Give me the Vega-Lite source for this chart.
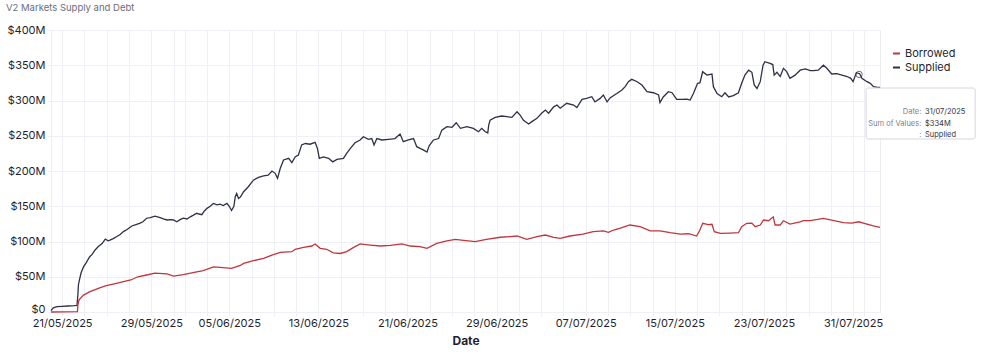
{
  "$schema": "https://vega.github.io/schema/vega-lite/v6.json",
  "width": 829,
  "height": 282,
  "autosize": {"type": "none"},
  "padding": {"left": 51, "top": 30, "right": 101, "bottom": 46},
  "background": "white",
  "title": {"text": "V2 Markets Supply and Debt", "anchor": "start", "frame": "group", "dx": -45, "offset": 12, "fontSize": 9.5, "fontWeight": "normal", "color": "#6a6d80", "font": "Inter"},
  "config": {
    "font": "Inter",
    "view": {"stroke": "#ececf2"},
    "axis": {"gridColor": "#eef0f5", "tickColor": "#eef0f5", "domain": false, "labelColor": "#1f1f2e", "labelFontSize": 11, "labelFont": "Inter"}
  },
  "resolve": {"axis": {"x": "independent", "y": "independent"}},
  "datasets": {
    "series": [
      {"date": "2025-05-20T00:00Z", "series": "Supplied", "value": 2},
      {"date": "2025-05-20T05:00Z", "series": "Supplied", "value": 6},
      {"date": "2025-05-20T13:00Z", "series": "Supplied", "value": 7.5},
      {"date": "2025-05-21T00:00Z", "series": "Supplied", "value": 8},
      {"date": "2025-05-21T13:00Z", "series": "Supplied", "value": 8.5},
      {"date": "2025-05-22T02:00Z", "series": "Supplied", "value": 9},
      {"date": "2025-05-22T08:00Z", "series": "Supplied", "value": 9.5},
      {"date": "2025-05-22T10:00Z", "series": "Supplied", "value": 25},
      {"date": "2025-05-22T11:00Z", "series": "Supplied", "value": 38},
      {"date": "2025-05-22T13:00Z", "series": "Supplied", "value": 45},
      {"date": "2025-05-22T17:00Z", "series": "Supplied", "value": 56},
      {"date": "2025-05-22T22:00Z", "series": "Supplied", "value": 64},
      {"date": "2025-05-23T04:00Z", "series": "Supplied", "value": 70},
      {"date": "2025-05-23T11:00Z", "series": "Supplied", "value": 78},
      {"date": "2025-05-23T17:00Z", "series": "Supplied", "value": 82},
      {"date": "2025-05-23T23:00Z", "series": "Supplied", "value": 88},
      {"date": "2025-05-24T06:00Z", "series": "Supplied", "value": 93},
      {"date": "2025-05-24T14:00Z", "series": "Supplied", "value": 97},
      {"date": "2025-05-24T21:00Z", "series": "Supplied", "value": 103.5},
      {"date": "2025-05-25T03:00Z", "series": "Supplied", "value": 101},
      {"date": "2025-05-25T07:00Z", "series": "Supplied", "value": 102},
      {"date": "2025-05-25T14:00Z", "series": "Supplied", "value": 104},
      {"date": "2025-05-25T22:00Z", "series": "Supplied", "value": 107},
      {"date": "2025-05-26T05:00Z", "series": "Supplied", "value": 110},
      {"date": "2025-05-26T12:00Z", "series": "Supplied", "value": 114},
      {"date": "2025-05-26T20:00Z", "series": "Supplied", "value": 117},
      {"date": "2025-05-27T06:00Z", "series": "Supplied", "value": 122},
      {"date": "2025-05-27T15:00Z", "series": "Supplied", "value": 124},
      {"date": "2025-05-28T00:00Z", "series": "Supplied", "value": 126},
      {"date": "2025-05-28T06:00Z", "series": "Supplied", "value": 128},
      {"date": "2025-05-28T14:00Z", "series": "Supplied", "value": 133},
      {"date": "2025-05-28T22:00Z", "series": "Supplied", "value": 134},
      {"date": "2025-05-29T08:00Z", "series": "Supplied", "value": 136},
      {"date": "2025-05-29T19:00Z", "series": "Supplied", "value": 134},
      {"date": "2025-05-30T02:00Z", "series": "Supplied", "value": 132},
      {"date": "2025-05-30T10:00Z", "series": "Supplied", "value": 130.5},
      {"date": "2025-05-30T17:00Z", "series": "Supplied", "value": 131},
      {"date": "2025-05-31T00:00Z", "series": "Supplied", "value": 130.5},
      {"date": "2025-05-31T07:00Z", "series": "Supplied", "value": 128},
      {"date": "2025-05-31T14:00Z", "series": "Supplied", "value": 131},
      {"date": "2025-05-31T21:00Z", "series": "Supplied", "value": 133},
      {"date": "2025-06-01T05:00Z", "series": "Supplied", "value": 132},
      {"date": "2025-06-01T12:00Z", "series": "Supplied", "value": 135},
      {"date": "2025-06-01T18:00Z", "series": "Supplied", "value": 137},
      {"date": "2025-06-02T02:00Z", "series": "Supplied", "value": 140},
      {"date": "2025-06-02T07:00Z", "series": "Supplied", "value": 139},
      {"date": "2025-06-02T13:00Z", "series": "Supplied", "value": 138},
      {"date": "2025-06-02T18:00Z", "series": "Supplied", "value": 143},
      {"date": "2025-06-03T00:00Z", "series": "Supplied", "value": 147},
      {"date": "2025-06-03T07:00Z", "series": "Supplied", "value": 150},
      {"date": "2025-06-03T14:00Z", "series": "Supplied", "value": 154},
      {"date": "2025-06-03T22:00Z", "series": "Supplied", "value": 152},
      {"date": "2025-06-04T04:00Z", "series": "Supplied", "value": 153},
      {"date": "2025-06-04T11:00Z", "series": "Supplied", "value": 151},
      {"date": "2025-06-04T19:00Z", "series": "Supplied", "value": 154},
      {"date": "2025-06-05T00:00Z", "series": "Supplied", "value": 150},
      {"date": "2025-06-05T05:00Z", "series": "Supplied", "value": 144},
      {"date": "2025-06-05T10:00Z", "series": "Supplied", "value": 150},
      {"date": "2025-06-05T13:00Z", "series": "Supplied", "value": 163.5},
      {"date": "2025-06-05T16:00Z", "series": "Supplied", "value": 168},
      {"date": "2025-06-05T20:00Z", "series": "Supplied", "value": 161},
      {"date": "2025-06-06T00:00Z", "series": "Supplied", "value": 163},
      {"date": "2025-06-06T07:00Z", "series": "Supplied", "value": 170.6},
      {"date": "2025-06-06T17:00Z", "series": "Supplied", "value": 177.7},
      {"date": "2025-06-07T04:00Z", "series": "Supplied", "value": 187},
      {"date": "2025-06-07T15:00Z", "series": "Supplied", "value": 191},
      {"date": "2025-06-08T02:00Z", "series": "Supplied", "value": 193},
      {"date": "2025-06-08T12:00Z", "series": "Supplied", "value": 194},
      {"date": "2025-06-08T20:00Z", "series": "Supplied", "value": 200},
      {"date": "2025-06-09T03:00Z", "series": "Supplied", "value": 196.7},
      {"date": "2025-06-09T08:00Z", "series": "Supplied", "value": 189.6},
      {"date": "2025-06-09T14:00Z", "series": "Supplied", "value": 203.8},
      {"date": "2025-06-09T21:00Z", "series": "Supplied", "value": 215.6},
      {"date": "2025-06-10T08:00Z", "series": "Supplied", "value": 218},
      {"date": "2025-06-10T15:00Z", "series": "Supplied", "value": 212},
      {"date": "2025-06-10T22:00Z", "series": "Supplied", "value": 220},
      {"date": "2025-06-11T05:00Z", "series": "Supplied", "value": 222.7},
      {"date": "2025-06-11T12:00Z", "series": "Supplied", "value": 237},
      {"date": "2025-06-11T20:00Z", "series": "Supplied", "value": 239},
      {"date": "2025-06-12T06:00Z", "series": "Supplied", "value": 238},
      {"date": "2025-06-12T17:00Z", "series": "Supplied", "value": 240.7},
      {"date": "2025-06-12T22:00Z", "series": "Supplied", "value": 232},
      {"date": "2025-06-13T02:00Z", "series": "Supplied", "value": 218},
      {"date": "2025-06-13T11:00Z", "series": "Supplied", "value": 220},
      {"date": "2025-06-13T22:00Z", "series": "Supplied", "value": 218},
      {"date": "2025-06-14T07:00Z", "series": "Supplied", "value": 213},
      {"date": "2025-06-14T16:00Z", "series": "Supplied", "value": 216.5},
      {"date": "2025-06-15T06:00Z", "series": "Supplied", "value": 218},
      {"date": "2025-06-15T13:00Z", "series": "Supplied", "value": 225},
      {"date": "2025-06-15T21:00Z", "series": "Supplied", "value": 232},
      {"date": "2025-06-16T07:00Z", "series": "Supplied", "value": 240},
      {"date": "2025-06-16T18:00Z", "series": "Supplied", "value": 244},
      {"date": "2025-06-17T01:00Z", "series": "Supplied", "value": 248.6},
      {"date": "2025-06-17T12:00Z", "series": "Supplied", "value": 245},
      {"date": "2025-06-17T19:00Z", "series": "Supplied", "value": 246},
      {"date": "2025-06-18T00:00Z", "series": "Supplied", "value": 237},
      {"date": "2025-06-18T06:00Z", "series": "Supplied", "value": 246},
      {"date": "2025-06-18T17:00Z", "series": "Supplied", "value": 244},
      {"date": "2025-06-19T07:00Z", "series": "Supplied", "value": 245},
      {"date": "2025-06-19T21:00Z", "series": "Supplied", "value": 246},
      {"date": "2025-06-20T08:00Z", "series": "Supplied", "value": 252.5},
      {"date": "2025-06-20T15:00Z", "series": "Supplied", "value": 241.6},
      {"date": "2025-06-21T02:00Z", "series": "Supplied", "value": 244},
      {"date": "2025-06-21T13:00Z", "series": "Supplied", "value": 246},
      {"date": "2025-06-21T20:00Z", "series": "Supplied", "value": 234.5},
      {"date": "2025-06-22T03:00Z", "series": "Supplied", "value": 232},
      {"date": "2025-06-22T10:00Z", "series": "Supplied", "value": 230},
      {"date": "2025-06-22T18:00Z", "series": "Supplied", "value": 227},
      {"date": "2025-06-22T23:00Z", "series": "Supplied", "value": 236},
      {"date": "2025-06-23T08:00Z", "series": "Supplied", "value": 244},
      {"date": "2025-06-23T19:00Z", "series": "Supplied", "value": 246},
      {"date": "2025-06-24T02:00Z", "series": "Supplied", "value": 258},
      {"date": "2025-06-24T13:00Z", "series": "Supplied", "value": 262.8},
      {"date": "2025-06-25T00:00Z", "series": "Supplied", "value": 262},
      {"date": "2025-06-25T09:00Z", "series": "Supplied", "value": 268.5},
      {"date": "2025-06-25T18:00Z", "series": "Supplied", "value": 260.5},
      {"date": "2025-06-26T08:00Z", "series": "Supplied", "value": 262.8},
      {"date": "2025-06-26T22:00Z", "series": "Supplied", "value": 260.5},
      {"date": "2025-06-27T09:00Z", "series": "Supplied", "value": 255.7},
      {"date": "2025-06-27T16:00Z", "series": "Supplied", "value": 260.5},
      {"date": "2025-06-27T23:00Z", "series": "Supplied", "value": 256},
      {"date": "2025-06-28T05:00Z", "series": "Supplied", "value": 254},
      {"date": "2025-06-28T07:00Z", "series": "Supplied", "value": 265},
      {"date": "2025-06-28T10:00Z", "series": "Supplied", "value": 272},
      {"date": "2025-06-28T21:00Z", "series": "Supplied", "value": 276},
      {"date": "2025-06-29T11:00Z", "series": "Supplied", "value": 278},
      {"date": "2025-06-29T22:00Z", "series": "Supplied", "value": 277},
      {"date": "2025-06-30T09:00Z", "series": "Supplied", "value": 276},
      {"date": "2025-06-30T20:00Z", "series": "Supplied", "value": 284},
      {"date": "2025-07-01T03:00Z", "series": "Supplied", "value": 279},
      {"date": "2025-07-01T10:00Z", "series": "Supplied", "value": 272},
      {"date": "2025-07-01T21:00Z", "series": "Supplied", "value": 266.7},
      {"date": "2025-07-02T04:00Z", "series": "Supplied", "value": 270},
      {"date": "2025-07-02T15:00Z", "series": "Supplied", "value": 274.7},
      {"date": "2025-07-03T01:00Z", "series": "Supplied", "value": 281.8},
      {"date": "2025-07-03T09:00Z", "series": "Supplied", "value": 286.5},
      {"date": "2025-07-03T16:00Z", "series": "Supplied", "value": 282},
      {"date": "2025-07-04T03:00Z", "series": "Supplied", "value": 291},
      {"date": "2025-07-04T10:00Z", "series": "Supplied", "value": 293.6},
      {"date": "2025-07-04T17:00Z", "series": "Supplied", "value": 289},
      {"date": "2025-07-05T07:00Z", "series": "Supplied", "value": 296},
      {"date": "2025-07-05T22:00Z", "series": "Supplied", "value": 293.6},
      {"date": "2025-07-06T05:00Z", "series": "Supplied", "value": 290},
      {"date": "2025-07-06T16:00Z", "series": "Supplied", "value": 301.7},
      {"date": "2025-07-07T02:00Z", "series": "Supplied", "value": 303},
      {"date": "2025-07-07T13:00Z", "series": "Supplied", "value": 305.4},
      {"date": "2025-07-07T20:00Z", "series": "Supplied", "value": 298},
      {"date": "2025-07-08T07:00Z", "series": "Supplied", "value": 303},
      {"date": "2025-07-08T14:00Z", "series": "Supplied", "value": 307.8},
      {"date": "2025-07-08T22:00Z", "series": "Supplied", "value": 298},
      {"date": "2025-07-09T05:00Z", "series": "Supplied", "value": 304},
      {"date": "2025-07-09T19:00Z", "series": "Supplied", "value": 310},
      {"date": "2025-07-10T06:00Z", "series": "Supplied", "value": 315},
      {"date": "2025-07-10T13:00Z", "series": "Supplied", "value": 319.6},
      {"date": "2025-07-10T20:00Z", "series": "Supplied", "value": 326.7},
      {"date": "2025-07-11T03:00Z", "series": "Supplied", "value": 330},
      {"date": "2025-07-11T14:00Z", "series": "Supplied", "value": 327},
      {"date": "2025-07-12T01:00Z", "series": "Supplied", "value": 322},
      {"date": "2025-07-12T12:00Z", "series": "Supplied", "value": 312.5},
      {"date": "2025-07-13T02:00Z", "series": "Supplied", "value": 311},
      {"date": "2025-07-13T13:00Z", "series": "Supplied", "value": 307.8},
      {"date": "2025-07-13T16:00Z", "series": "Supplied", "value": 297},
      {"date": "2025-07-13T23:00Z", "series": "Supplied", "value": 305},
      {"date": "2025-07-14T10:00Z", "series": "Supplied", "value": 312.5},
      {"date": "2025-07-14T18:00Z", "series": "Supplied", "value": 311},
      {"date": "2025-07-15T04:00Z", "series": "Supplied", "value": 301.7},
      {"date": "2025-07-15T15:00Z", "series": "Supplied", "value": 301.7},
      {"date": "2025-07-16T02:00Z", "series": "Supplied", "value": 302},
      {"date": "2025-07-16T09:00Z", "series": "Supplied", "value": 300.7},
      {"date": "2025-07-16T16:00Z", "series": "Supplied", "value": 310},
      {"date": "2025-07-17T01:00Z", "series": "Supplied", "value": 324.4},
      {"date": "2025-07-17T06:00Z", "series": "Supplied", "value": 325},
      {"date": "2025-07-17T12:00Z", "series": "Supplied", "value": 340.8},
      {"date": "2025-07-17T21:00Z", "series": "Supplied", "value": 336},
      {"date": "2025-07-18T08:00Z", "series": "Supplied", "value": 337.6},
      {"date": "2025-07-18T11:00Z", "series": "Supplied", "value": 319.6},
      {"date": "2025-07-18T19:00Z", "series": "Supplied", "value": 310},
      {"date": "2025-07-19T05:00Z", "series": "Supplied", "value": 305.4},
      {"date": "2025-07-19T12:00Z", "series": "Supplied", "value": 311},
      {"date": "2025-07-19T20:00Z", "series": "Supplied", "value": 305},
      {"date": "2025-07-20T06:00Z", "series": "Supplied", "value": 307},
      {"date": "2025-07-20T17:00Z", "series": "Supplied", "value": 311},
      {"date": "2025-07-21T00:00Z", "series": "Supplied", "value": 324.4},
      {"date": "2025-07-21T07:00Z", "series": "Supplied", "value": 336},
      {"date": "2025-07-21T15:00Z", "series": "Supplied", "value": 343},
      {"date": "2025-07-21T22:00Z", "series": "Supplied", "value": 340},
      {"date": "2025-07-22T03:00Z", "series": "Supplied", "value": 322},
      {"date": "2025-07-22T09:00Z", "series": "Supplied", "value": 317},
      {"date": "2025-07-22T16:00Z", "series": "Supplied", "value": 326.7},
      {"date": "2025-07-22T22:00Z", "series": "Supplied", "value": 350},
      {"date": "2025-07-23T02:00Z", "series": "Supplied", "value": 355},
      {"date": "2025-07-23T13:00Z", "series": "Supplied", "value": 352.7},
      {"date": "2025-07-23T19:00Z", "series": "Supplied", "value": 351},
      {"date": "2025-07-23T22:00Z", "series": "Supplied", "value": 336},
      {"date": "2025-07-24T04:00Z", "series": "Supplied", "value": 340},
      {"date": "2025-07-24T11:00Z", "series": "Supplied", "value": 334},
      {"date": "2025-07-24T18:00Z", "series": "Supplied", "value": 345.6},
      {"date": "2025-07-25T01:00Z", "series": "Supplied", "value": 341},
      {"date": "2025-07-25T08:00Z", "series": "Supplied", "value": 331.5},
      {"date": "2025-07-25T19:00Z", "series": "Supplied", "value": 336},
      {"date": "2025-07-26T06:00Z", "series": "Supplied", "value": 343},
      {"date": "2025-07-26T17:00Z", "series": "Supplied", "value": 344.7},
      {"date": "2025-07-27T04:00Z", "series": "Supplied", "value": 342.3},
      {"date": "2025-07-27T11:00Z", "series": "Supplied", "value": 342.3},
      {"date": "2025-07-27T21:00Z", "series": "Supplied", "value": 343},
      {"date": "2025-07-28T08:00Z", "series": "Supplied", "value": 350},
      {"date": "2025-07-28T15:00Z", "series": "Supplied", "value": 346},
      {"date": "2025-07-29T02:00Z", "series": "Supplied", "value": 337.6},
      {"date": "2025-07-29T13:00Z", "series": "Supplied", "value": 338},
      {"date": "2025-07-30T00:00Z", "series": "Supplied", "value": 336},
      {"date": "2025-07-30T11:00Z", "series": "Supplied", "value": 334},
      {"date": "2025-07-30T19:00Z", "series": "Supplied", "value": 331.5},
      {"date": "2025-07-31T00:00Z", "series": "Supplied", "value": 326.7},
      {"date": "2025-07-31T07:00Z", "series": "Supplied", "value": 339.4},
      {"date": "2025-07-31T14:00Z", "series": "Supplied", "value": 338},
      {"date": "2025-07-31T19:00Z", "series": "Supplied", "value": 331.5},
      {"date": "2025-08-01T06:00Z", "series": "Supplied", "value": 326.7},
      {"date": "2025-08-01T13:00Z", "series": "Supplied", "value": 324.4},
      {"date": "2025-08-01T20:00Z", "series": "Supplied", "value": 319.6},
      {"date": "2025-08-02T03:00Z", "series": "Supplied", "value": 319},
      {"date": "2025-08-02T10:00Z", "series": "Supplied", "value": 318.7},
      {"date": "2025-05-20T00:00Z", "series": "Borrowed", "value": 0},
      {"date": "2025-05-22T09:00Z", "series": "Borrowed", "value": 0.5},
      {"date": "2025-05-22T10:00Z", "series": "Borrowed", "value": 10},
      {"date": "2025-05-22T12:00Z", "series": "Borrowed", "value": 16},
      {"date": "2025-05-22T13:00Z", "series": "Borrowed", "value": 17.5},
      {"date": "2025-05-22T22:00Z", "series": "Borrowed", "value": 24},
      {"date": "2025-05-23T12:00Z", "series": "Borrowed", "value": 29},
      {"date": "2025-05-24T06:00Z", "series": "Borrowed", "value": 33.6},
      {"date": "2025-05-24T21:00Z", "series": "Borrowed", "value": 37},
      {"date": "2025-05-25T14:00Z", "series": "Borrowed", "value": 39.7},
      {"date": "2025-05-26T12:00Z", "series": "Borrowed", "value": 43},
      {"date": "2025-05-27T04:00Z", "series": "Borrowed", "value": 45.4},
      {"date": "2025-05-27T19:00Z", "series": "Borrowed", "value": 50},
      {"date": "2025-05-28T14:00Z", "series": "Borrowed", "value": 52.5},
      {"date": "2025-05-29T08:00Z", "series": "Borrowed", "value": 55},
      {"date": "2025-05-30T10:00Z", "series": "Borrowed", "value": 54},
      {"date": "2025-05-31T00:00Z", "series": "Borrowed", "value": 51},
      {"date": "2025-05-31T21:00Z", "series": "Borrowed", "value": 53},
      {"date": "2025-06-01T18:00Z", "series": "Borrowed", "value": 55.7},
      {"date": "2025-06-02T16:00Z", "series": "Borrowed", "value": 58.6},
      {"date": "2025-06-03T14:00Z", "series": "Borrowed", "value": 64},
      {"date": "2025-06-04T11:00Z", "series": "Borrowed", "value": 63},
      {"date": "2025-06-05T05:00Z", "series": "Borrowed", "value": 62},
      {"date": "2025-06-06T00:00Z", "series": "Borrowed", "value": 66},
      {"date": "2025-06-06T07:00Z", "series": "Borrowed", "value": 69},
      {"date": "2025-06-07T04:00Z", "series": "Borrowed", "value": 72.8},
      {"date": "2025-06-08T02:00Z", "series": "Borrowed", "value": 76},
      {"date": "2025-06-08T20:00Z", "series": "Borrowed", "value": 80.8},
      {"date": "2025-06-09T14:00Z", "series": "Borrowed", "value": 84.6},
      {"date": "2025-06-10T15:00Z", "series": "Borrowed", "value": 85.6},
      {"date": "2025-06-10T22:00Z", "series": "Borrowed", "value": 89},
      {"date": "2025-06-11T16:00Z", "series": "Borrowed", "value": 91.7},
      {"date": "2025-06-12T10:00Z", "series": "Borrowed", "value": 93.6},
      {"date": "2025-06-12T17:00Z", "series": "Borrowed", "value": 96.5},
      {"date": "2025-06-13T04:00Z", "series": "Borrowed", "value": 90.3},
      {"date": "2025-06-13T18:00Z", "series": "Borrowed", "value": 89},
      {"date": "2025-06-14T08:00Z", "series": "Borrowed", "value": 84},
      {"date": "2025-06-14T23:00Z", "series": "Borrowed", "value": 83},
      {"date": "2025-06-15T13:00Z", "series": "Borrowed", "value": 85.6},
      {"date": "2025-06-16T04:00Z", "series": "Borrowed", "value": 91.7},
      {"date": "2025-06-16T18:00Z", "series": "Borrowed", "value": 96.5},
      {"date": "2025-06-17T16:00Z", "series": "Borrowed", "value": 95},
      {"date": "2025-06-18T14:00Z", "series": "Borrowed", "value": 93.6},
      {"date": "2025-06-19T11:00Z", "series": "Borrowed", "value": 94.6},
      {"date": "2025-06-20T12:00Z", "series": "Borrowed", "value": 96.5},
      {"date": "2025-06-21T06:00Z", "series": "Borrowed", "value": 93.6},
      {"date": "2025-06-22T03:00Z", "series": "Borrowed", "value": 92.6},
      {"date": "2025-06-22T18:00Z", "series": "Borrowed", "value": 90.3},
      {"date": "2025-06-23T15:00Z", "series": "Borrowed", "value": 97.4},
      {"date": "2025-06-24T13:00Z", "series": "Borrowed", "value": 101},
      {"date": "2025-06-25T07:00Z", "series": "Borrowed", "value": 103},
      {"date": "2025-06-26T01:00Z", "series": "Borrowed", "value": 101.5},
      {"date": "2025-06-27T02:00Z", "series": "Borrowed", "value": 99.7},
      {"date": "2025-06-28T02:00Z", "series": "Borrowed", "value": 103},
      {"date": "2025-06-29T08:00Z", "series": "Borrowed", "value": 106},
      {"date": "2025-06-30T05:00Z", "series": "Borrowed", "value": 107},
      {"date": "2025-06-30T20:00Z", "series": "Borrowed", "value": 107.8},
      {"date": "2025-07-01T17:00Z", "series": "Borrowed", "value": 103},
      {"date": "2025-07-02T15:00Z", "series": "Borrowed", "value": 106.8},
      {"date": "2025-07-03T09:00Z", "series": "Borrowed", "value": 109.2},
      {"date": "2025-07-04T03:00Z", "series": "Borrowed", "value": 106},
      {"date": "2025-07-04T17:00Z", "series": "Borrowed", "value": 104.5},
      {"date": "2025-07-05T14:00Z", "series": "Borrowed", "value": 107.8},
      {"date": "2025-07-06T18:00Z", "series": "Borrowed", "value": 110.6},
      {"date": "2025-07-07T16:00Z", "series": "Borrowed", "value": 114},
      {"date": "2025-07-08T14:00Z", "series": "Borrowed", "value": 115},
      {"date": "2025-07-09T01:00Z", "series": "Borrowed", "value": 113},
      {"date": "2025-07-09T12:00Z", "series": "Borrowed", "value": 116.3},
      {"date": "2025-07-10T01:00Z", "series": "Borrowed", "value": 118.7},
      {"date": "2025-07-10T23:00Z", "series": "Borrowed", "value": 123.4},
      {"date": "2025-07-11T21:00Z", "series": "Borrowed", "value": 121},
      {"date": "2025-07-12T19:00Z", "series": "Borrowed", "value": 115},
      {"date": "2025-07-13T16:00Z", "series": "Borrowed", "value": 115},
      {"date": "2025-07-14T14:00Z", "series": "Borrowed", "value": 112.5},
      {"date": "2025-07-15T12:00Z", "series": "Borrowed", "value": 110.6},
      {"date": "2025-07-16T06:00Z", "series": "Borrowed", "value": 111},
      {"date": "2025-07-16T23:00Z", "series": "Borrowed", "value": 107.8},
      {"date": "2025-07-17T06:00Z", "series": "Borrowed", "value": 116.3},
      {"date": "2025-07-17T12:00Z", "series": "Borrowed", "value": 125.8},
      {"date": "2025-07-18T00:00Z", "series": "Borrowed", "value": 124},
      {"date": "2025-07-18T08:00Z", "series": "Borrowed", "value": 124.5},
      {"date": "2025-07-18T13:00Z", "series": "Borrowed", "value": 114},
      {"date": "2025-07-19T02:00Z", "series": "Borrowed", "value": 111.6},
      {"date": "2025-07-19T23:00Z", "series": "Borrowed", "value": 112},
      {"date": "2025-07-20T17:00Z", "series": "Borrowed", "value": 112.5},
      {"date": "2025-07-21T00:00Z", "series": "Borrowed", "value": 121},
      {"date": "2025-07-21T11:00Z", "series": "Borrowed", "value": 125.8},
      {"date": "2025-07-21T22:00Z", "series": "Borrowed", "value": 126},
      {"date": "2025-07-22T05:00Z", "series": "Borrowed", "value": 121},
      {"date": "2025-07-22T16:00Z", "series": "Borrowed", "value": 123.4},
      {"date": "2025-07-22T23:00Z", "series": "Borrowed", "value": 130.5},
      {"date": "2025-07-23T10:00Z", "series": "Borrowed", "value": 129.5},
      {"date": "2025-07-23T20:00Z", "series": "Borrowed", "value": 135},
      {"date": "2025-07-24T00:00Z", "series": "Borrowed", "value": 123.4},
      {"date": "2025-07-24T11:00Z", "series": "Borrowed", "value": 123.4},
      {"date": "2025-07-24T18:00Z", "series": "Borrowed", "value": 129.5},
      {"date": "2025-07-25T08:00Z", "series": "Borrowed", "value": 124.8},
      {"date": "2025-07-26T06:00Z", "series": "Borrowed", "value": 128},
      {"date": "2025-07-26T13:00Z", "series": "Borrowed", "value": 129.5},
      {"date": "2025-07-27T04:00Z", "series": "Borrowed", "value": 129.5},
      {"date": "2025-07-28T08:00Z", "series": "Borrowed", "value": 132.9},
      {"date": "2025-07-29T07:00Z", "series": "Borrowed", "value": 129.5},
      {"date": "2025-07-30T03:00Z", "series": "Borrowed", "value": 126.7},
      {"date": "2025-07-30T21:00Z", "series": "Borrowed", "value": 126},
      {"date": "2025-07-31T12:00Z", "series": "Borrowed", "value": 128},
      {"date": "2025-08-01T06:00Z", "series": "Borrowed", "value": 124.8},
      {"date": "2025-08-01T20:00Z", "series": "Borrowed", "value": 122},
      {"date": "2025-08-02T10:00Z", "series": "Borrowed", "value": 120}
    ]
  },
  "layer": [
    {
      "data": {"name": "series"},
      "mark": {"type": "line", "strokeWidth": 1.3, "interpolate": "linear"},
      "encoding": {
        "x": {
          "field": "date", "type": "temporal",
          "scale": {"type": "utc", "nice": false, "domain": [{"year": 2025, "month": 5, "date": 20, "utc": true}, {"year": 2025, "month": 8, "date": 2, "hours": 10, "utc": true}]},
          "axis": {"title": "Date", "labelExpr": "utcFormat(datum.value, '%d/%m/%Y')", "tickCount": {"interval": "day", "step": 2}, "labelOverlap": "parity", "labelFlush": false, "labelAngle": 0, "tickSize": 4, "labelPadding": 1, "titleFontSize": 12, "titleFontWeight": "bold", "titleColor": "#1f1f2e", "titlePadding": 7}
        },
        "y": {
          "field": "value", "type": "quantitative",
          "scale": {"domain": [0, 400], "nice": false},
          "axis": {"title": null, "values": [0, 50, 100, 150, 200, 250, 300, 350, 400], "labelExpr": "datum.value == 0 ? '$0' : '$' + datum.value + 'M'", "labelOverlap": false, "tickSize": 4, "labelPadding": 2, "labelOffset": {"condition": {"test": "datum.value == 0", "value": -3}, "value": 0}}
        },
        "color": {
          "field": "series", "type": "nominal",
          "scale": {"domain": ["Borrowed", "Supplied"], "range": ["#c0363c", "#2e3045"]},
          "legend": {"title": null, "orient": "none", "legendX": 840, "legendY": 18, "symbolType": "stroke", "symbolSize": 50, "symbolStrokeWidth": 2, "labelFontSize": 11, "labelColor": "#1f1f2e", "rowPadding": 2, "labelOffset": 3}
        }
      }
    },
    {
      "data": {"values": [{}]},
      "mark": {"type": "point", "filled": false, "size": 40, "stroke": "#2e3045", "strokeWidth": 1},
      "encoding": {
        "x": {"datum": {"year": 2025, "month": 7, "date": 31, "hours": 13, "utc": true}, "type": "temporal", "axis": null},
        "y": {"datum": 337, "type": "quantitative", "axis": null}
      }
    },
    {
      "data": {"values": [{}]},
      "mark": {"type": "rect", "fill": "white", "stroke": "#d6d6de", "strokeWidth": 1, "cornerRadius": 2},
      "encoding": {
        "x": {"datum": {"year": 2025, "month": 8, "date": 1, "hours": 4, "utc": true}, "type": "temporal", "axis": null},
        "x2": {"datum": {"year": 2025, "month": 8, "date": 10, "hours": 23, "utc": true}},
        "y": {"datum": 317.7, "type": "quantitative", "axis": null},
        "y2": {"datum": 245.4}
      }
    },
    {
      "data": {"values": [{}]},
      "mark": {"type": "text", "align": "right", "baseline": "middle", "fontSize": 7.5, "lineHeight": 11.5, "color": "#80808a", "text": ["Date:", "Sum of Values:", ":"]},
      "encoding": {
        "x": {"datum": {"year": 2025, "month": 8, "date": 6, "hours": 3, "utc": true}, "type": "temporal", "axis": null},
        "y": {"datum": 283, "type": "quantitative", "axis": null}
      }
    },
    {
      "data": {"values": [{}]},
      "mark": {"type": "text", "align": "left", "baseline": "middle", "fontSize": 7.5, "lineHeight": 11.5, "color": "#333340", "text": ["31/07/2025", "$334M", "Supplied"]},
      "encoding": {
        "x": {"datum": {"year": 2025, "month": 8, "date": 6, "hours": 11, "utc": true}, "type": "temporal", "axis": null},
        "y": {"datum": 283, "type": "quantitative", "axis": null}
      }
    }
  ]
}
